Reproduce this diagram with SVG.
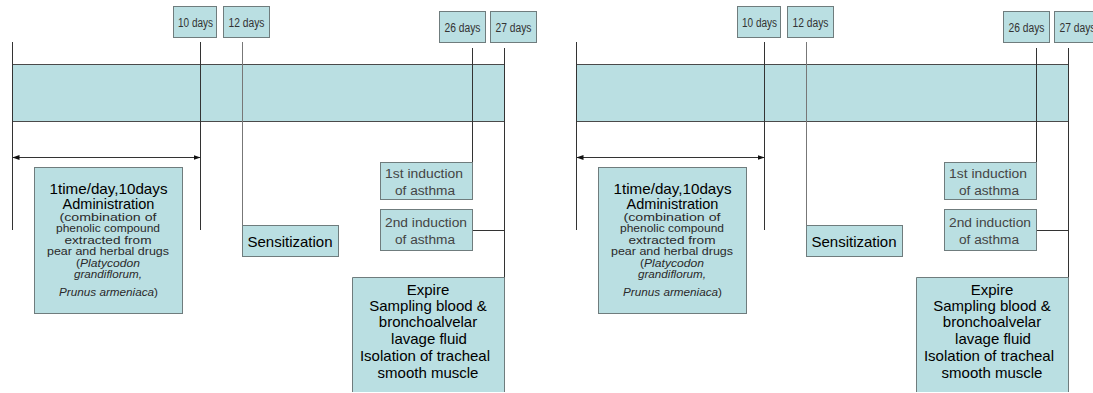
<svg xmlns="http://www.w3.org/2000/svg" width="1093" height="393" viewBox="0 0 1093 393">
<style>
.bg{fill:#ffffff}
.box{fill:#badfe2;stroke:#6f7c7d;stroke-width:1}
.band{fill:#badfe2}
.edge{stroke:#4a4a4a;stroke-width:1;fill:none}
.ln{stroke:#333;stroke-width:1;fill:none}
.lg{stroke:#777;stroke-width:1;fill:none}
.t{font-family:"Liberation Sans",Arial,sans-serif;text-anchor:middle}
.day{font-size:12px;fill:#333}
.big{font-size:15px;fill:#000}
.hd{font-size:14.5px;fill:#000}
.sm{font-size:11px;fill:#2a2a2a}
.ind{font-size:12.5px;fill:#444}
.it{font-style:italic}
</style>
<defs>
<marker id="ah" markerWidth="7" markerHeight="6" refX="6.5" refY="3" orient="auto-start-reverse" markerUnits="userSpaceOnUse">
<path d="M0,0.5 L7,3 L0,5.5 Z" fill="#111"/>
</marker>
</defs>
<rect class="bg" x="0" y="0" width="1093" height="393"/>

<g id="panel-left">
<g id="band-left">
<rect class="band" x="12" y="64" width="492.5" height="57"/>
<path class="edge" d="M12,64.5 H504.5 M12,121.5 H504.5"/>
</g>
<g id="connectors-left">
<path class="ln" d="M12.5,42 V230"/>
<path class="ln" d="M200.5,42 V230"/>
<path class="lg" d="M242.5,42 V225"/>
<path class="ln" d="M472.5,48 V162"/>
<path class="ln" d="M504.5,48 V391"/>
<path class="ln" d="M472.5,230.5 H504.5"/>
<path class="ln" d="M13,157.5 H200" marker-start="url(#ah)" marker-end="url(#ah)"/>
</g>
<g id="day10-left"><rect class="box" x="173.5" y="6.5" width="43" height="31"/><text class="t day" x="195.5" y="26.5" textLength="35" lengthAdjust="spacingAndGlyphs">10 days</text></g>
<g id="day12-left"><rect class="box" x="223.5" y="6.5" width="46" height="31"/><text class="t day" x="246.5" y="26.5" textLength="36" lengthAdjust="spacingAndGlyphs">12 days</text></g>
<g id="day26-left"><rect class="box" x="439.5" y="11.5" width="46" height="31"/><text class="t day" x="462.5" y="31.5" textLength="36" lengthAdjust="spacingAndGlyphs">26 days</text></g>
<g id="day27-left"><rect class="box" x="490.5" y="11.5" width="46" height="31"/><text class="t day" x="513.5" y="31.5" textLength="36" lengthAdjust="spacingAndGlyphs">27 days</text></g>
<g id="admin-left">
<rect class="box" x="34.5" y="167.5" width="148" height="146"/>
<text class="t hd" x="108.5" y="194" textLength="118" lengthAdjust="spacingAndGlyphs">1time/day,10days</text>
<text class="t hd" x="108.5" y="208.5">Administration</text>
<text class="t sm" x="108" y="220.5" textLength="97" lengthAdjust="spacingAndGlyphs">(combination of</text>
<text class="t sm" x="108" y="232" textLength="104" lengthAdjust="spacingAndGlyphs">phenolic compound</text>
<text class="t sm" x="108" y="243.5" textLength="87" lengthAdjust="spacingAndGlyphs">extracted  from</text>
<text class="t sm" x="108" y="255" textLength="122" lengthAdjust="spacingAndGlyphs">pear and herbal drugs</text>
<text class="t sm" x="108" y="266.5" textLength="64" lengthAdjust="spacingAndGlyphs">(<tspan class="it">Platycodon</tspan></text>
<text class="t sm it" x="108" y="278" textLength="68" lengthAdjust="spacingAndGlyphs">grandiflorum,</text>
<text class="t sm" x="108.5" y="295.5" textLength="99" lengthAdjust="spacingAndGlyphs"><tspan class="it">Prunus armeniaca</tspan>)</text>
</g>
<g id="sens-left"><rect class="box" x="242.5" y="225.5" width="96" height="31"/><text class="t big" x="290" y="247">Sensitization</text></g>
<g id="ind1-left"><rect class="box" x="380.5" y="162.5" width="92" height="37"/><text class="t ind" x="424" y="178" textLength="78" lengthAdjust="spacingAndGlyphs">1st induction</text><text class="t ind" x="425" y="195" textLength="60" lengthAdjust="spacingAndGlyphs">of asthma</text></g>
<g id="ind2-left"><rect class="box" x="380.5" y="209.5" width="92" height="41"/><text class="t ind" x="426" y="227" textLength="82" lengthAdjust="spacingAndGlyphs">2nd induction</text><text class="t ind" x="425" y="244" textLength="60" lengthAdjust="spacingAndGlyphs">of asthma</text></g>
<g id="expire-left">
<path class="box" d="M352.5,392 V277.5 H504.5 V392"/>
<text class="t big" x="428" y="295">Expire</text>
<text class="t big" x="428" y="311">Sampling blood &amp;</text>
<text class="t big" x="428" y="327">bronchoalvelar</text>
<text class="t big" x="429" y="344">lavage fluid</text>
<text class="t big" x="425" y="361">Isolation of tracheal</text>
<text class="t big" x="428" y="378">smooth muscle</text>
</g>
</g>

<g id="panel-right" transform="translate(564,0)">
<g id="band-right">
<rect class="band" x="12" y="64" width="492.5" height="57"/>
<path class="edge" d="M12,64.5 H504.5 M12,121.5 H504.5"/>
</g>
<g id="connectors-right">
<path class="ln" d="M12.5,42 V230"/>
<path class="ln" d="M200.5,42 V230"/>
<path class="lg" d="M242.5,42 V225"/>
<path class="ln" d="M472.5,48 V162"/>
<path class="ln" d="M504.5,48 V391"/>
<path class="ln" d="M472.5,230.5 H504.5"/>
<path class="ln" d="M13,157.5 H200" marker-start="url(#ah)" marker-end="url(#ah)"/>
</g>
<g id="day10-right"><rect class="box" x="173.5" y="6.5" width="43" height="31"/><text class="t day" x="195.5" y="26.5" textLength="35" lengthAdjust="spacingAndGlyphs">10 days</text></g>
<g id="day12-right"><rect class="box" x="223.5" y="6.5" width="46" height="31"/><text class="t day" x="246.5" y="26.5" textLength="36" lengthAdjust="spacingAndGlyphs">12 days</text></g>
<g id="day26-right"><rect class="box" x="439.5" y="11.5" width="46" height="31"/><text class="t day" x="462.5" y="31.5" textLength="36" lengthAdjust="spacingAndGlyphs">26 days</text></g>
<g id="day27-right"><rect class="box" x="490.5" y="11.5" width="46" height="31"/><text class="t day" x="513.5" y="31.5" textLength="36" lengthAdjust="spacingAndGlyphs">27 days</text></g>
<g id="admin-right">
<rect class="box" x="34.5" y="167.5" width="148" height="146"/>
<text class="t hd" x="108.5" y="194" textLength="118" lengthAdjust="spacingAndGlyphs">1time/day,10days</text>
<text class="t hd" x="108.5" y="208.5">Administration</text>
<text class="t sm" x="108" y="220.5" textLength="97" lengthAdjust="spacingAndGlyphs">(combination of</text>
<text class="t sm" x="108" y="232" textLength="104" lengthAdjust="spacingAndGlyphs">phenolic compound</text>
<text class="t sm" x="108" y="243.5" textLength="87" lengthAdjust="spacingAndGlyphs">extracted  from</text>
<text class="t sm" x="108" y="255" textLength="122" lengthAdjust="spacingAndGlyphs">pear and herbal drugs</text>
<text class="t sm" x="108" y="266.5" textLength="64" lengthAdjust="spacingAndGlyphs">(<tspan class="it">Platycodon</tspan></text>
<text class="t sm it" x="108" y="278" textLength="68" lengthAdjust="spacingAndGlyphs">grandiflorum,</text>
<text class="t sm" x="108.5" y="295.5" textLength="99" lengthAdjust="spacingAndGlyphs"><tspan class="it">Prunus armeniaca</tspan>)</text>
</g>
<g id="sens-right"><rect class="box" x="242.5" y="225.5" width="96" height="31"/><text class="t big" x="290" y="247">Sensitization</text></g>
<g id="ind1-right"><rect class="box" x="380.5" y="162.5" width="92" height="37"/><text class="t ind" x="424" y="178" textLength="78" lengthAdjust="spacingAndGlyphs">1st induction</text><text class="t ind" x="425" y="195" textLength="60" lengthAdjust="spacingAndGlyphs">of asthma</text></g>
<g id="ind2-right"><rect class="box" x="380.5" y="209.5" width="92" height="41"/><text class="t ind" x="426" y="227" textLength="82" lengthAdjust="spacingAndGlyphs">2nd induction</text><text class="t ind" x="425" y="244" textLength="60" lengthAdjust="spacingAndGlyphs">of asthma</text></g>
<g id="expire-right">
<path class="box" d="M352.5,392 V277.5 H504.5 V392"/>
<text class="t big" x="428" y="295">Expire</text>
<text class="t big" x="428" y="311">Sampling blood &amp;</text>
<text class="t big" x="428" y="327">bronchoalvelar</text>
<text class="t big" x="429" y="344">lavage fluid</text>
<text class="t big" x="425" y="361">Isolation of tracheal</text>
<text class="t big" x="428" y="378">smooth muscle</text>
</g>
</g>
</svg>
